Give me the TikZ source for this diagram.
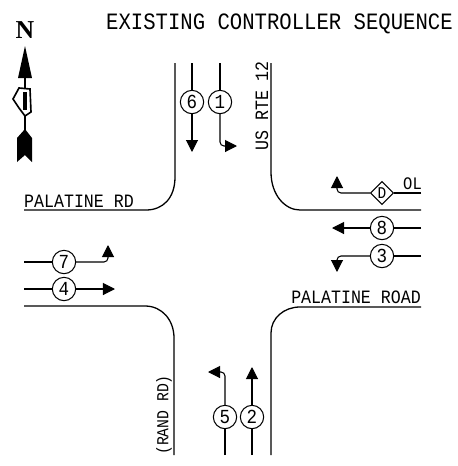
\documentclass[tikz,border=0pt]{standalone}
\usepackage{fontspec}
\setmonofont[FakeStretch=0.88]{Liberation Mono}
\newfontfamily\northfont{Liberation Serif}
\usetikzlibrary{arrows.meta,bending}
\usetikzlibrary{shapes.geometric}
\tikzset{
  road/.style={line width=1.1pt},
  lane/.style={line width=0.9pt},
  lanearrow/.style={line width=0.9pt,rounded corners=0.12cm,-{Triangle[length=0.36cm,width=0.36cm,flex=0]}},
  phase/.style={circle,draw,line width=0.9pt,minimum size=0.7cm,inner sep=0pt,font=\ttfamily\fontsize{17}{17}\selectfont},
  overlap/.style={diamond,draw,line width=0.9pt,minimum size=0.7cm,inner sep=0pt,font=\ttfamily\fontsize{14}{14}\selectfont},
  titletext/.style={inner sep=0pt,font=\ttfamily\fontsize{20}{20}\selectfont},
  roadtext/.style={inner sep=0pt,font=\ttfamily\fontsize{16.1}{16.1}\selectfont},
  roadtextup/.style={roadtext,rotate=90},
}
\begin{document}
\begin{tikzpicture}[x=0.03cm,y=-0.03cm]
\useasboundingbox (0,0) rectangle (458,466);
\node[titletext,anchor=west] (title) at (106,24) {EXISTING CONTROLLER SEQUENCE};

% north arrow
\node[inner sep=0pt,font=\northfont\bfseries\fontsize{22}{22}\selectfont] (north) at (25,30) {N};
\fill (25,46) -- (32,78) -- (18,78) -- cycle;
\draw[line width=1.4pt] (25,78) -- (25,88);
\draw[line width=1.4pt] (25,116) -- (25,130);
\draw[line width=1.4pt] (19,88) -- (30,89) -- (31,112) -- (25,116) -- (19,108) -- (13,99) -- cycle;
\draw[line width=3pt] (25,92) -- (25,110);
\fill (25,129) -- (32,138) -- (32,162) -- (25,155) -- (17,162) -- (17,138) -- cycle;

% road edges
\draw[road] (175,63) -- (175,177) .. controls (175,198) and (163,210) .. (146,210) -- (24,210);
\draw[road] (271,63) -- (271,172) .. controls (271,195) and (285,210) .. (300,210) -- (421,210);
\draw[road] (24,306) -- (145,306) .. controls (162,306) and (174,320) .. (174,338) -- (174,455);
\draw[road] (421,307) -- (300,307) .. controls (284,307) and (271,318) .. (271,333) -- (271,455);

\node[roadtext,anchor=west] (palatinerd) at (24,201) {PALATINE RD};
\node[roadtext,anchor=east] (palatineroad) at (421,297) {PALATINE ROAD};
\node[roadtextup,anchor=west] (usrte) at (262,151) {US RTE 12};
\node[roadtextup,anchor=west,font=\ttfamily\fontsize{14.3}{14.3}\selectfont] (randrd) at (164,455) {(RAND RD)};

% phases
\node[phase] (ph6) at (192,102) {6};
\node[phase] (ph1) at (220,102) {1};
\node[phase] (ph7) at (64,262) {7};
\node[phase] (ph4) at (64,289) {4};
\node[phase] (ph5) at (225,417) {5};
\node[phase] (ph2) at (252,417) {2};
\node[phase] (ph8) at (382,228) {8};
\node[phase] (ph3) at (382,256) {3};
\node[overlap] (phd) at (382,193) {D};
\node[roadtext,anchor=west,font=\ttfamily\fontsize{15}{15}\selectfont] (ol) at (403,184) {OL};

\coordinate (in6) at (192,63);
\coordinate (in1) at (220,63);
\coordinate (in7) at (24,262);
\coordinate (in4) at (24,289);
\coordinate (in5) at (225,455);
\coordinate (in2) at (252,455);
\coordinate (in8) at (421,228);
\coordinate (in3) at (421,256);
\coordinate (ind) at (421,193);

\coordinate (out6) at (192,152);
\coordinate (out1) at (237,146);
\coordinate (out7) at (108,245);
\coordinate (out4) at (115,289);
\coordinate (out5) at (208,372);
\coordinate (out2) at (252,367);
\coordinate (out8) at (332,228);
\coordinate (out3) at (337,272);
\coordinate (outd) at (337,176);

\draw[lane] (in6) -- (ph6);
\draw[lane] (in1) -- (ph1);
\draw[lane] (in7) -- (ph7);
\draw[lane] (in4) -- (ph4);
\draw[lane] (in5) -- (ph5);
\draw[lane] (in2) -- (ph2);
\draw[lane] (in8) -- (ph8);
\draw[lane] (in3) -- (ph3);
\draw[lane] (ind) -- (phd);

\draw[lanearrow] (ph6) -- (out6);
\draw[lanearrow] (ph1) |- (out1);
\draw[lanearrow] (ph7) -| (out7);
\draw[lanearrow] (ph4) -- (out4);
\draw[lanearrow] (ph5) |- (out5);
\draw[lanearrow] (ph2) -- (out2);
\draw[lanearrow] (ph8) -- (out8);
\draw[lanearrow] (ph3) -| (out3);
\draw[lanearrow] (phd) -| (outd);
\end{tikzpicture}
\end{document}
